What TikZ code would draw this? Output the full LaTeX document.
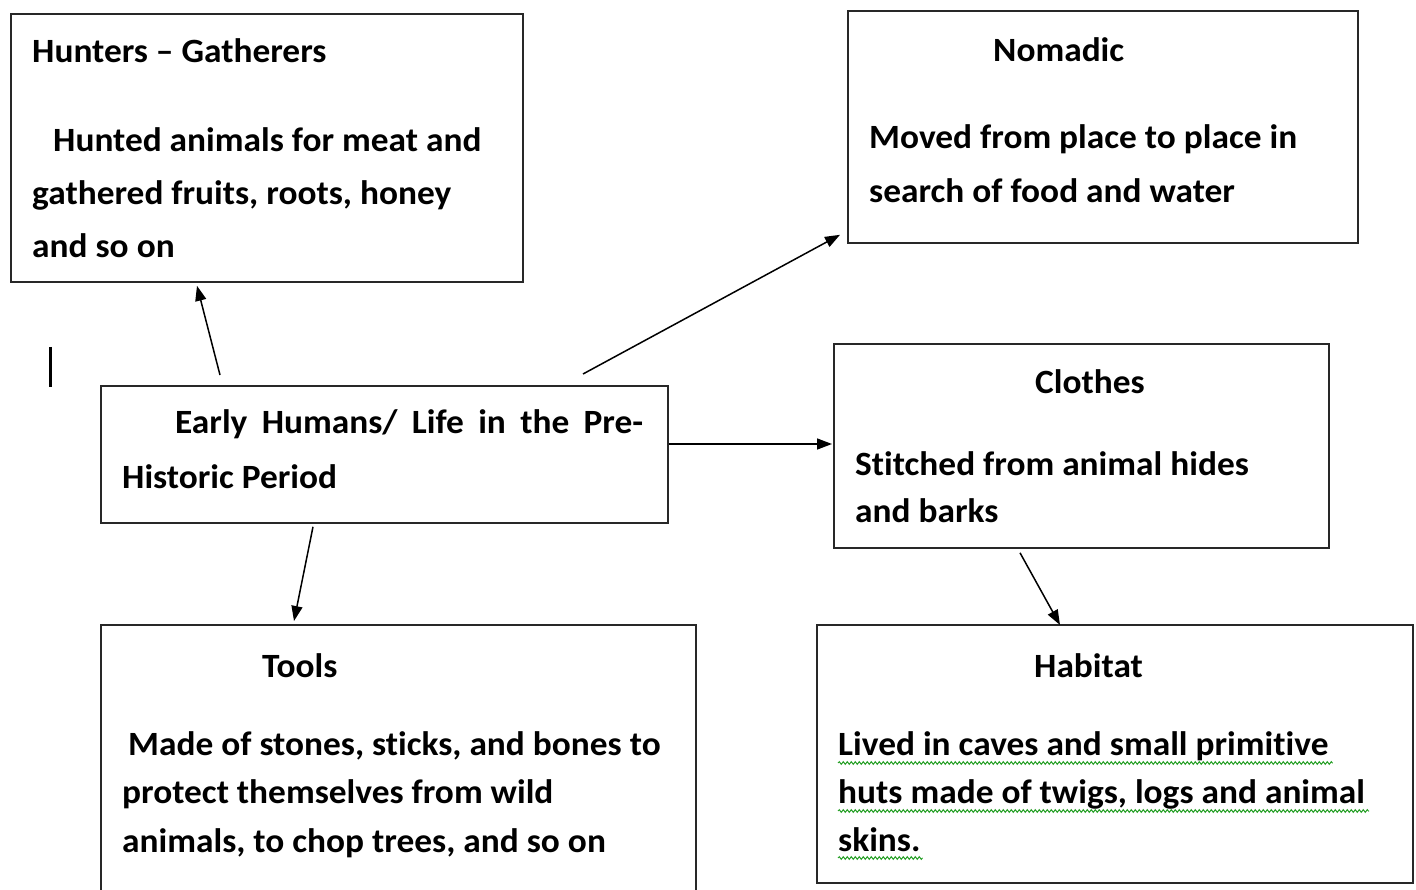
\documentclass[tikz,border=0pt]{standalone}
\usepackage{fontspec}
\setmainfont{Carlito}[FakeStretch=1.04, Ligatures=NoCommon]
\usetikzlibrary{arrows.meta,decorations.pathmorphing}
\definecolor{boxline}{RGB}{40,40,40}
\definecolor{spell}{RGB}{40,160,40}
\tikzset{
  boxnode/.style={draw=boxline, line width=1.8pt, rectangle, inner sep=0pt, anchor=north west},
  txt/.style={anchor=base west, inner sep=0pt, font=\fontsize{34}{50}\selectfont\bfseries},
  arr/.style={draw=black, line width=1.5pt, -{Triangle[length=15pt,width=11pt]}},
  wavy/.style={draw=spell, line width=1pt, decorate, decoration={snake, segment length=4pt, amplitude=1.3pt}}
}
\begin{document}
\begin{tikzpicture}[x=1pt,y=-1pt]
\useasboundingbox (0,0) rectangle (1416,890);
\clip (0,0) rectangle (1416,890);
\fill[white] (0,0) rectangle (1416,890);
% boxes
\node[boxnode, minimum width=512pt, minimum height=268pt] (hunt) at (10,13) {};
\node[boxnode, minimum width=510pt, minimum height=232pt] (nomad) at (847,10) {};
\node[boxnode, minimum width=567pt, minimum height=137pt] (early) at (100,385) {};
\node[boxnode, minimum width=495pt, minimum height=204pt] (clothes) at (833,343) {};
\node[boxnode, minimum width=595pt, minimum height=300pt] (tools) at (100,624) {};
\node[boxnode, minimum width=596pt, minimum height=258pt] (habitat) at (816,624) {};
% texts
\node[txt] (h1) at (32,63) {Hunters – Gatherers};
\node[txt] (h2) at (53,152) {Hunted animals for meat and};
\node[txt] (h3) at (32,205) {gathered fruits, roots, honey};
\node[txt] (h4) at (32,258) {and so on};
\node[txt] (n1) at (993,62) {Nomadic};
\node[txt] (n2) at (869,149) {Moved from place to place in};
\node[txt] (n3) at (869,203) {search of food and water};
\node[txt] (e1) at (175,433) {\makebox[468pt][s]{Early Humans/ Life in the Pre-}};
\node[txt] (e2) at (122,488) {Historic Period};
\node[txt] (c1) at (1035,393) {Clothes};
\node[txt] (c2) at (855,475) {Stitched from animal hides};
\node[txt] (c3) at (855,522) {and barks};
\node[txt] (t1) at (262,677) {Tools};
\node[txt] (t2) at (128,755) {Made of stones, sticks, and bones to};
\node[txt] (t3) at (122,803) {protect themselves from wild};
\node[txt] (t4) at (122,852) {animals, to chop trees, and so on};
\node[txt] (b1) at (1034,677) {Habitat};
\node[txt] (b2) at (838,755) {Lived in caves and small primitive};
\node[txt] (b3) at (838,803) {huts made of twigs, logs and animal};
\node[txt] (b4) at (838,851) {skins.};
% spell-check underlines
\draw[wavy] ([yshift=-8pt]b2.base west) -- ([shift={(4pt,-8pt)}]b2.base east);
\draw[wavy] ([yshift=-8pt]b3.base west) -- ([shift={(4pt,-8pt)}]b3.base east);
\draw[wavy] ([yshift=-7pt]b4.base west) -- ([shift={(2pt,-7pt)}]b4.base east);
% cursor mark
\coordinate (cur) at (50,347);
\draw[line width=3pt] (cur) -- ++(0,40);
% arrows
\draw[arr] ([shift={(120,-10)}]early.north west) -- ([shift={(187,3)}]hunt.south west);
\draw[arr] ([shift={(483,-11)}]early.north west) -- ([shift={(-7,-9)}]nomad.south west);
\draw[arr] ([shift={(0,59)}]early.north east) -- ([shift={(-1,101)}]clothes.north west);
\draw[arr] ([shift={(213,3)}]early.south west) -- ([shift={(194,-3)}]tools.north west);
\draw[arr] ([shift={(187,4)}]clothes.south west) -- ([shift={(244,1)}]habitat.north west);
\end{tikzpicture}
\end{document}
